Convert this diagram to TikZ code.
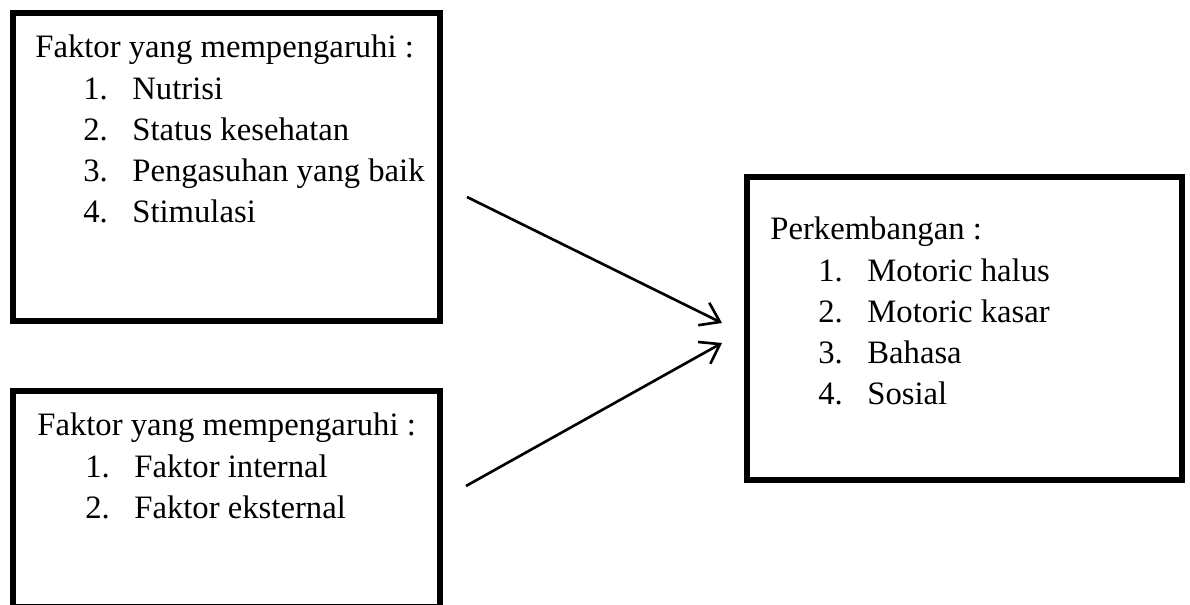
\documentclass[tikz,border=0pt]{standalone}
\usepackage{fontspec}
\setmainfont{Liberation Serif}
\usepackage{array}
\usetikzlibrary{arrows.meta,positioning}

\tikzset{
  kotak/.style={draw, line width=3.2pt, line join=miter, rectangle, inner sep=0pt},
  isi/.style={anchor=base west, inner sep=0pt, font=\fontsize{18.6pt}{23.4pt}\selectfont},
  panah/.style={line width=1.5pt, -{Straight Barb[length=0.36cm,width=0.5cm,line width=1.5pt]}}
}

\newcommand{\daftar}[2]{%
  \begin{tabular}[t]{@{}p{0.96cm}@{}p{0.98cm}@{}l@{}}
    \multicolumn{3}{@{}l@{}}{#1}\\
    #2
  \end{tabular}}

\begin{document}
\begin{tikzpicture}
    \clip (0,0) rectangle (23.8,12.1);
    \useasboundingbox (0,0) rectangle (23.8,12.1);

    % Draw the boxes
    \draw[kotak] (0.26,5.68) rectangle (8.80,11.84);
    \draw[kotak] (0.26,-0.04) rectangle (8.80,4.28);
    \draw[kotak] (14.94,2.50) rectangle (23.64,8.56);

    % Add the texts
    \node[isi] (faktorA) at (0.70,10.94) {\daftar{Faktor yang mempengaruhi :}{
      & 1. & Nutrisi\\
      & 2. & Status kesehatan\\
      & 3. & Pengasuhan yang baik\\
      & 4. & Stimulasi}};
    \node[isi] (faktorB) at (0.74,3.38) {\daftar{Faktor yang mempengaruhi :}{
      & 1. & Faktor internal\\
      & 2. & Faktor eksternal}};
    \node[isi] (perkembangan) at (15.40,7.30) {\daftar{Perkembangan :}{
      & 1. & Motoric halus\\
      & 2. & Motoric kasar\\
      & 3. & Bahasa\\
      & 4. & Sosial}};

    % Draw the arrows
    \coordinate (awalA) at (9.34,8.16);
    \coordinate (awalB) at (9.32,2.38);
    \coordinate (ujungA) at (14.44,5.64);
    \coordinate (ujungB) at (14.44,5.24);
    \draw[panah] (awalA) -- (ujungA);
    \draw[panah] (awalB) -- (ujungB);
  \end{tikzpicture}
\end{document}
